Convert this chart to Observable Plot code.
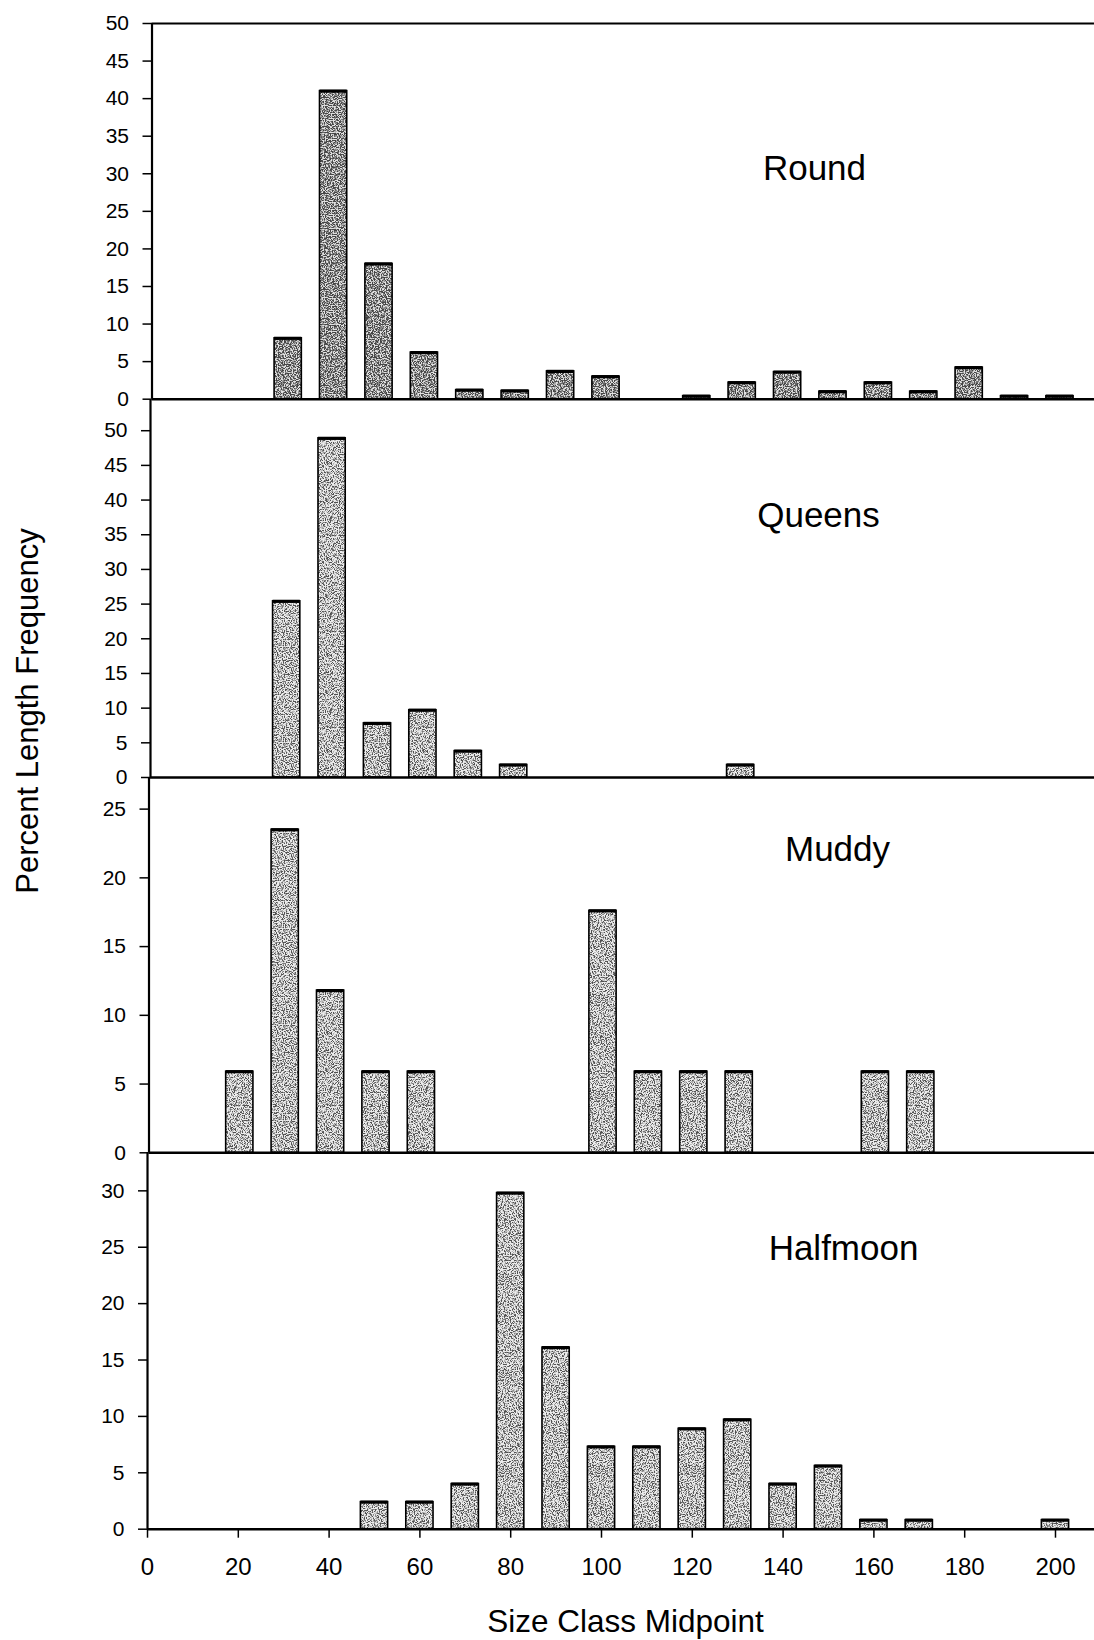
<!DOCTYPE html>
<html>
<head>
<meta charset="utf-8">
<script src="https://cdn.jsdelivr.net/npm/d3@7"></script>
<script src="https://cdn.jsdelivr.net/npm/@observablehq/plot@0.6"></script>
<style>
  body { margin: 0; background: #fff; }
  #chart { position: relative; width: 1094px; height: 1640px; font-family: "Liberation Sans", Arial, sans-serif; color: #000; overflow: hidden; }
  #chart svg.panel { position: absolute; left: 0; }
  #ylabel { position: absolute; left: 28px; top: 711px; transform: translate(-50%, -50%) rotate(-90deg); font-size: 31px; white-space: nowrap; }
</style>
</head>
<body>
<svg width="0" height="0" style="position:absolute">
  <defs>
    <filter id="noiseLight" x="0" y="0" width="100%" height="100%">
      <feTurbulence type="fractalNoise" baseFrequency="0.85" numOctaves="2" seed="5" stitchTiles="stitch"/>
      <feColorMatrix type="matrix" values="0 0 0 0 0.08  0 0 0 0 0.08  0 0 0 0 0.08  -5.5 0 0 0 3.0"/>
    </filter>
    <filter id="noiseDark" x="0" y="0" width="100%" height="100%">
      <feTurbulence type="fractalNoise" baseFrequency="0.85" numOctaves="2" seed="11" stitchTiles="stitch"/>
      <feColorMatrix type="matrix" values="0 0 0 0 0.06  0 0 0 0 0.06  0 0 0 0 0.06  -5.5 0 0 0 3.3"/>
    </filter>
    <pattern id="grain" patternUnits="userSpaceOnUse" width="96" height="96">
      <rect width="96" height="96" fill="#ececec"/>
      <rect width="96" height="96" filter="url(#noiseLight)"/>
    </pattern>
    <pattern id="grainDark" patternUnits="userSpaceOnUse" width="96" height="96">
      <rect width="96" height="96" fill="#e2e2e2"/>
      <rect width="96" height="96" filter="url(#noiseDark)"/>
    </pattern>
  </defs>
</svg>
<div id="chart"><div id="ylabel">Percent Length Frequency</div></div>
<script>
// ---- data ----
const roundSizes = [30, 40, 50, 60, 70, 80, 90, 100, 120, 130, 140, 150, 160, 170, 180, 190, 200];
const roundValues = [8.1, 41.0, 18.0, 6.2, 1.2, 1.1, 3.7, 3.0, 0.4, 2.2, 3.6, 1.0, 2.2, 1.0, 4.2, 0.4, 0.4];

const queensSizes = [30, 40, 50, 60, 70, 80, 130];
const queensValues = [25.4, 48.9, 7.8, 9.7, 3.8, 1.8, 1.8];

const muddySizes = [20, 30, 40, 50, 60, 100, 110, 120, 130, 160, 170];
const muddyValues = [5.9, 23.5, 11.8, 5.9, 5.9, 17.6, 5.9, 5.9, 5.9, 5.9, 5.9];

const halfmoonSizes = [50, 60, 70, 80, 90, 100, 110, 120, 130, 140, 150, 160, 170, 200];
const halfmoonValues = [2.4, 2.4, 4.0, 29.8, 16.1, 7.3, 7.3, 8.9, 9.7, 4.0, 5.6, 0.8, 0.8, 0.8];

const roundTicks = [0, 5, 10, 15, 20, 25, 30, 35, 40, 45, 50];
const queensTicks = [0, 5, 10, 15, 20, 25, 30, 35, 40, 45, 50];
const muddyTicks = [0, 5, 10, 15, 20, 25];
const halfmoonTicks = [0, 5, 10, 15, 20, 25, 30];
const xTicks = [0, 20, 40, 60, 80, 100, 120, 140, 160, 180, 200];

const lakeNames = ["Round", "Queens", "Muddy", "Halfmoon"];
const xLabel = "Size Class Midpoint";

// ---- layout ----
const W = 1094;
const pxPerUnit = 4.54;
const binHalf = 3;
const font = '"Liberation Sans", Arial, sans-serif';

const panels = [
  {name: lakeNames[0], sizes: roundSizes, values: roundValues, ticks: roundTicks, yMax: 50, top: 23.3, bottom: 399, ml: 151.5, lx: 814, lb: 180, fill: "url(#grainDark)", frameTop: true},
  {name: lakeNames[1], sizes: queensSizes, values: queensValues, ticks: queensTicks, yMax: 54.5, top: 399, bottom: 777, ml: 150, lx: 818, lb: 526, fill: "url(#grain)"},
  {name: lakeNames[2], sizes: muddySizes, values: muddyValues, ticks: muddyTicks, yMax: 27.3, top: 777, bottom: 1152.3, ml: 148.5, lx: 837, lb: 861, fill: "url(#grain)"},
  {name: lakeNames[3], sizes: halfmoonSizes, values: halfmoonValues, ticks: halfmoonTicks, yMax: 33.4, top: 1152.3, bottom: 1529, ml: 147, lx: 843, lb: 1260, fill: "url(#grain)", last: true}
];

const chart = document.getElementById("chart");

panels.forEach(p => {
  const data = p.sizes.map((s, i) => ({size: s, value: p.values[i]}));
  const pad = 30;
  const mb = p.last ? (1640 - p.bottom) : pad;
  const marks = [
    Plot.rect(data, {x1: d => d.size - binHalf, x2: d => d.size + binHalf, y1: 0, y2: "value", fill: p.fill, stroke: "black", strokeWidth: 1.6}),
    Plot.ruleY(data, {y: "value", x1: d => d.size - binHalf, x2: d => d.size + binHalf, stroke: "black", strokeWidth: 3.2}),
    Plot.ruleY([0], {stroke: "black", strokeWidth: 2.4}),
    Plot.ruleX([0], {stroke: "black", strokeWidth: 2.2}),
    Plot.axisY(p.ticks, {tickSize: 9, tickPadding: 14, fontSize: 21, strokeWidth: 1.5, label: null}),
    Plot.text([p.name], {text: d => d, frameAnchor: "top-left", dx: p.lx - p.ml, dy: p.lb - p.top, textAnchor: "middle", lineAnchor: "bottom", fontSize: 35})
  ];
  if (p.frameTop) marks.push(Plot.ruleY([p.yMax], {stroke: "black", strokeWidth: 2.2}));
  if (p.last) {
    marks.push(Plot.axisX(xTicks, {tickSize: 9, tickPadding: 20, fontSize: 24, strokeWidth: 1.5, label: null}));
    marks.push(Plot.text([xLabel], {text: d => d, frameAnchor: "bottom", dx: 4.5, dy: 80, lineAnchor: "top", fontSize: 31.5}));
  }
  const svg = Plot.plot({
    width: W,
    height: pad + (p.bottom - p.top) + mb,
    marginLeft: p.ml,
    marginRight: 0,
    marginTop: pad,
    marginBottom: mb,
    x: {domain: [0, (W - p.ml) / pxPerUnit], axis: null},
    y: {domain: [0, p.yMax], axis: null},
    style: {background: "transparent", overflow: "visible", fontFamily: font, color: "black"},
    marks
  });
  svg.classList.add("panel");
  svg.style.top = (p.top - pad) + "px";
  chart.appendChild(svg);
});
</script>
</body>
</html>
